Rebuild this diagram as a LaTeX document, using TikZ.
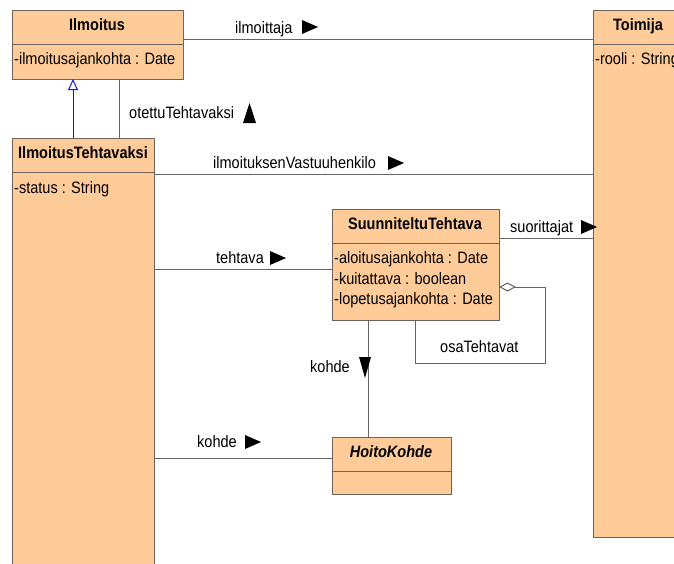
\documentclass[tikz,border=0pt]{standalone}
\usepackage{fontspec}
\setmainfont{Liberation Sans}[FakeStretch=0.88]
\usetikzlibrary{arrows.meta}
\definecolor{classfill}{RGB}{255,204,153}
\definecolor{boxline}{RGB}{110,100,90}
\definecolor{linegray}{RGB}{100,100,100}
\definecolor{genblue}{RGB}{20,20,230}
\tikzset{%
  >=latex, % option for nice arrows
  every node/.style={font=\fontsize{16.5}{19}\selectfont},
  classbox/.style={draw=boxline,fill=classfill,line width=1pt,
    inner sep=0pt,outer sep=0pt,anchor=north west},
  classname/.style={inner sep=0pt,anchor=base,font=\fontsize{16.5}{19}\selectfont\bfseries},
  attr/.style={inner sep=0pt,anchor=base west},
  assoclabel/.style={inner sep=0pt,anchor=base west},
  assoc/.style={draw=linegray,line width=1pt},
  navright/.pic={\fill (0,0) -- (16,7) -- (0,14) -- cycle;},
  navup/.pic={\fill (0,20) -- (6.5,0) -- (13,20) -- cycle;},
  navdown/.pic={\fill (0,0) -- (12,0) -- (6,21) -- cycle;}
}

\begin{document}
\begin{tikzpicture}[x=1pt,y=-1pt]
\useasboundingbox (0,0) rectangle (674,563);

%definitions
\node[classbox,minimum width=171pt,minimum height=69pt] (ilmoitus) at (12,10) {};
\node[classbox,minimum width=142pt,minimum height=450pt] (ilmtehtava) at (12,138) {};
\node[classbox,minimum width=90pt,minimum height=527pt] (toimija) at (593,10) {};
\node[classbox,minimum width=167pt,minimum height=111pt] (suunniteltu) at (332,209) {};
\node[classbox,minimum width=119pt,minimum height=57pt] (hoitokohde) at (332,437) {};
% compartments
\draw[boxline,line width=1pt] (ilmoitus.west |- 0,44) -- (ilmoitus.east |- 0,44);
\draw[boxline,line width=1pt] (ilmtehtava.west |- 0,172) -- (ilmtehtava.east |- 0,172);
\draw[boxline,line width=1pt] (toimija.west |- 0,44) -- (toimija.east |- 0,44);
\draw[boxline,line width=1pt] (suunniteltu.west |- 0,243) -- (suunniteltu.east |- 0,243);
\draw[boxline,line width=1pt] (hoitokohde.west |- 0,471) -- (hoitokohde.east |- 0,471);

% class texts
\node[classname] (ilmoitus-name) at (97,30) {Ilmoitus};
\node[attr] (ilmoitus-attr) at (14,64) {-ilmoitusajankohta : Date};
\node[classname] (ilmtehtava-name) at (83,158) {IlmoitusTehtavaksi};
\node[attr] (ilmtehtava-attr) at (14,193) {-status : String};
\node[classname] (toimija-name) at (638,30) {Toimija};
\node[attr] (toimija-attr) at (595,64) {-rooli : String};
\node[classname] (suunniteltu-name) at (415,229) {SuunniteltuTehtava};
\node[attr] (suunniteltu-a) at (334,263) {-aloitusajankohta : Date};
\node[attr] (suunniteltu-b) at (334,284) {-kuitattava : boolean};
\node[attr] (suunniteltu-c) at (334,304) {-lopetusajankohta : Date};
\node[classname,font=\fontsize{16.5}{19}\selectfont\bfseries\itshape] (hoitokohde-name) at (391,457) {HoitoKohde};

% associations
\draw[assoc] (ilmoitus.east |- 0,39) -- (toimija.west |- 0,39);
\draw[genblue,line width=1pt,-{Triangle[open,length=11pt,width=10pt,fill=white]}]
  (ilmtehtava.north -| 73,0) -- (ilmoitus.south -| 73,0);
\draw[assoc] (ilmoitus.south -| 119,0) -- (ilmtehtava.north -| 119,0);
\draw[assoc] (ilmtehtava.east |- 0,174) -- (toimija.west |- 0,174);
\draw[assoc] (suunniteltu.east |- 0,238) -- (toimija.west |- 0,238);
\draw[assoc] (ilmtehtava.east |- 0,269) -- (suunniteltu.west |- 0,269);
\draw[assoc,{Diamond[open,length=17pt,width=9pt,fill=white]}-]
  (suunniteltu.east |- 0,287) -- (545,287) -- (545,363) -- (415,363)
  -- (suunniteltu.south -| 415,0);
\draw[assoc] (suunniteltu.south -| 368,0) -- (hoitokohde.north -| 368,0);
\draw[assoc] (ilmtehtava.east |- 0,458) -- (hoitokohde.west |- 0,458);

%labels
\node[assoclabel] (lbl-ilmoittaja) at (235,33) {ilmoittaja};
\pic at (302,20) {navright};
\node[assoclabel] (lbl-otettu) at (129,118) {otettuTehtavaksi};
\pic at (243,103) {navup};
\node[assoclabel] (lbl-vastuu) at (213,168) {ilmoituksenVastuuhenkilo};
\pic at (388,156) {navright};
\node[assoclabel] (lbl-suorittajat) at (510,232) {suorittajat};
\pic at (581,220) {navright};
\node[assoclabel] (lbl-tehtava) at (216,263) {tehtava};
\pic at (270,251) {navright};
\node[assoclabel] (lbl-osa) at (440,352) {osaTehtavat};
\node[assoclabel] (lbl-kohde1) at (310,372) {kohde};
\pic at (359,357) {navdown};
\node[assoclabel] (lbl-kohde2) at (197,447) {kohde};
\pic at (245,435) {navright};

\end{tikzpicture}
\end{document}
